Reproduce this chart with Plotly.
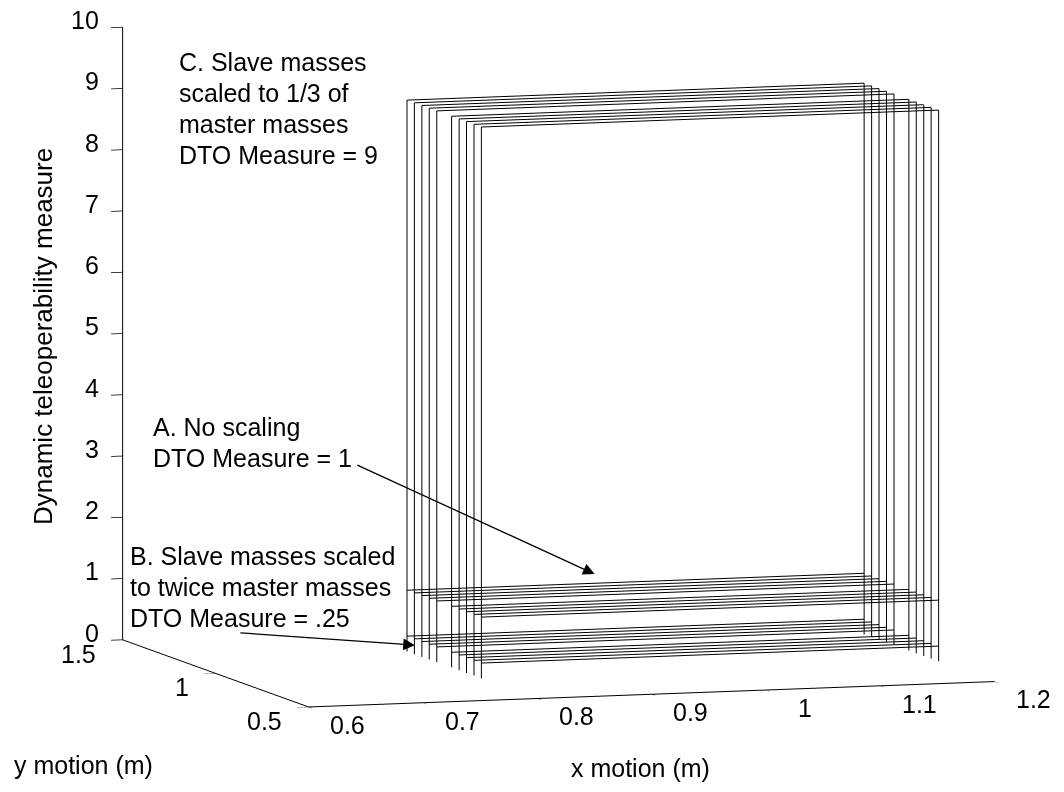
import plotly.graph_objects as go

# DTO measure for the three mass-scaling cases
case_labels = ["C", "A", "B"]
dto_levels = [9.0, 1.0, 0.25]

# swept workspace: x extent and the y rows of the sweep
x_edges = [0.8, 1.2]
y_rows = [0.80, 0.84, 0.88, 0.92, 0.96, 1.04, 1.08, 1.12, 1.16, 1.20]
z_floor = 0.0

# axis ranges and ticks
x_range = [0.6, 1.2]
y_range = [0.5, 1.5]
z_range = [0, 10]
x_ticks = [0.6, 0.7, 0.8, 0.9, 1.0, 1.1, 1.2]
x_ticktext = ["0.6", "0.7", "0.8", "0.9", "1", "1.1", "1.2"]
y_ticks = [0.5, 1.0, 1.5]
y_ticktext = ["0.5", "1", "1.5"]
z_ticks = [0, 1, 2, 3, 4, 5, 6, 7, 8, 9, 10]
z_ticktext = [str(v) for v in z_ticks]

FONT = "Liberation Sans, Arial, sans-serif"
FS = 25
W, H = 1064, 792

# line segments: one row line per y at each DTO level, plus the edge posts
xs, ys, zs = [], [], []
for lvl in dto_levels:
    for yr in y_rows:
        xs += [x_edges[0], x_edges[1], None]
        ys += [yr, yr, None]
        zs += [lvl, lvl, None]
z_top = max(dto_levels)
for yr in y_rows:
    for xe in x_edges:
        xs += [xe, xe, None]
        ys += [yr, yr, None]
        zs += [z_floor, z_top, None]

fig = go.Figure(
    go.Scatter3d(
        x=xs, y=ys, z=zs, mode="lines",
        line=dict(color="black", width=2),
        hoverinfo="skip", showlegend=False,
    )
)


def axis(rng, vals):
    return dict(
        range=rng, autorange=False, tickvals=vals, showticklabels=False,
        title=dict(text=""),
        showbackground=False, showgrid=False, zeroline=False,
        showline=True, linecolor="black", linewidth=2,
        ticks="outside", tickcolor="black", ticklen=12, tickwidth=1.5,
        showspikes=False,
    )


# tick labels placed at the axis edges of the box
tick_font = dict(family=FONT, size=FS, color="black")
scene_ann = []
for v, t in zip(z_ticks, z_ticktext):
    scene_ann.append(dict(x=x_range[0], y=y_range[1], z=v, text=t, showarrow=False,
                          xanchor="right", yanchor="middle", xshift=-22, yshift=7,
                          font=tick_font))
for v, t in zip(y_ticks, y_ticktext):
    scene_ann.append(dict(x=x_range[0], y=v, z=z_range[0], text=t, showarrow=False,
                          xanchor="right", yanchor="middle", xshift=-25, yshift=-14,
                          font=tick_font))
for v, t in zip(x_ticks, x_ticktext):
    scene_ann.append(dict(x=v, y=y_range[0], z=z_range[0], text=t, showarrow=False,
                          xanchor="center", yanchor="middle", xshift=39, yshift=-18,
                          font=tick_font))

# arrows from the case notes to the DTO = 1 and DTO = 0.25 layers
arrow_common = dict(text="", showarrow=True, arrowhead=2, arrowsize=1.8,
                    arrowwidth=1.3, arrowcolor="black")
scene_ann.append(dict(x=0.98, y=1.2, z=dto_levels[1], ax=-257, ay=-118,
                      standoff=20, **arrow_common))
scene_ann.append(dict(x=0.8, y=1.04, z=dto_levels[2], ax=-198, ay=-14,
                      standoff=22, **arrow_common))

fig.update_layout(
    width=W, height=H,
    margin=dict(l=0, r=0, t=0, b=0),
    paper_bgcolor="white",
    font=dict(family=FONT, size=FS, color="black"),
    scene=dict(
        xaxis=axis(x_range, x_ticks),
        yaxis=axis(y_range, y_ticks),
        zaxis=axis(z_range, z_ticks),
        aspectmode="manual",
        aspectratio=dict(x=2.02, y=1.71, z=1.73),
        camera=dict(
            projection=dict(type="orthographic"),
            eye=dict(x=-0.33, y=-1.03, z=0.12),
            up=dict(x=0, y=0, z=1),
            center=dict(x=0, y=0, z=-0.006),
        ),
        domain=dict(x=[0.05, 1.0], y=[0.1, 1.0]),
        annotations=scene_ann,
    ),
)

# case notes: (lines, left x, centre y of first line) in pixels from the top-left
LINE_GAP = 31
notes = [
    (["C. Slave masses", "scaled to 1/3 of", "master masses", "DTO Measure = 9"], 177, 62),
    (["A. No scaling", "DTO Measure = 1"], 151, 427),
    (["B. Slave masses scaled", "to twice master masses", "DTO Measure = .25"], 128, 556),
]
for lines, px, py in notes:
    for i, line in enumerate(lines):
        fig.add_annotation(text=line, x=px / W, y=1 - (py + i * LINE_GAP) / H,
                           xref="paper", yref="paper", showarrow=False,
                           xanchor="left", yanchor="middle",
                           font=dict(family=FONT, size=FS, color="black"))

# axis titles
titles = [
    ("Dynamic teleoperability measure", 43, 337, -90),
    ("y motion (m)", 83, 765, 0),
    ("x motion (m)", 640, 768, 0),
]
for text, px, py, ang in titles:
    fig.add_annotation(text=text, x=px / W, y=1 - py / H, xref="paper", yref="paper",
                       showarrow=False, xanchor="center", yanchor="middle",
                       textangle=ang, font=dict(family=FONT, size=26 if ang else FS,
                                                color="black"))

fig.write_html("out.html")
